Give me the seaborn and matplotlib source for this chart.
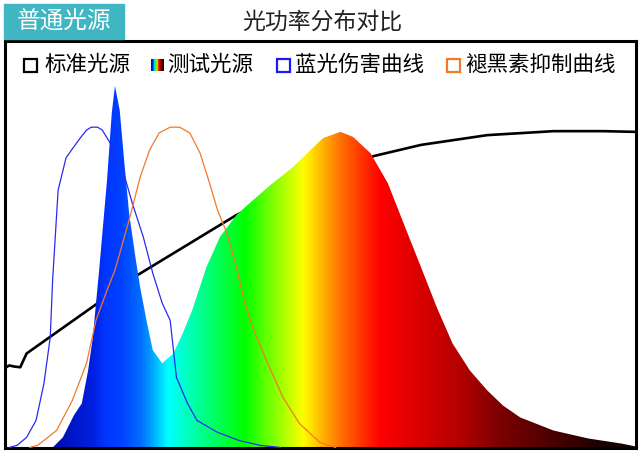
import numpy as np
import matplotlib
matplotlib.use('Agg')
import matplotlib.pyplot as plt
import seaborn as sns
from matplotlib.colors import LinearSegmentedColormap
from matplotlib.patches import Rectangle

# Wavelength (nm) and relative power
test_wl = [410.5, 417, 424, 429, 433, 436, 438, 440, 445, 448, 450, 453, 456, 459,
           463, 466, 470, 474, 480, 487, 493, 499, 508, 516.5, 527, 537.5, 550,
           563, 574, 582, 593, 601, 612, 623, 633, 644, 654, 664, 675, 686, 696,
           707, 728, 750, 771, 780]
test_val = [0.0, 0.028, 0.089, 0.122, 0.213, 0.305, 0.399, 0.490, 0.740, 0.925,
            1.0, 0.934, 0.787, 0.648, 0.526, 0.443, 0.352, 0.269, 0.233, 0.260,
            0.316, 0.380, 0.499, 0.582, 0.643, 0.684, 0.731, 0.776, 0.823, 0.856,
            0.873, 0.859, 0.814, 0.731, 0.620, 0.499, 0.388, 0.288, 0.213, 0.158,
            0.116, 0.083, 0.047, 0.025, 0.011, 0.003]

std_wl = [380, 383, 386, 390, 394, 464, 527, 555, 580, 614, 644, 686, 728, 760, 780]
std_val = [0.219, 0.227, 0.224, 0.222, 0.260, 0.476, 0.643, 0.701, 0.751,
           0.806, 0.837, 0.864, 0.875, 0.875, 0.873]

blue_wl = [383, 388, 394, 400, 405, 409, 410.5, 414, 419, 422.5, 428, 432, 435,
           439, 442, 447, 455, 461, 468, 474, 480, 485, 489, 496, 502, 515, 529,
           542, 555]
blue_val = [0.0, 0.006, 0.028, 0.075, 0.177, 0.305, 0.463, 0.712, 0.801, 0.823,
            0.856, 0.878, 0.886, 0.886, 0.878, 0.842, 0.767, 0.676, 0.582, 0.482,
            0.399, 0.352, 0.194, 0.122, 0.075, 0.042, 0.019, 0.006, 0.0]

mel_wl = [396, 401, 413, 423, 432, 438, 445, 450, 459, 466, 472, 478, 485, 491,
          497.5, 504, 510, 515, 521, 527, 532, 537.5, 546, 556.5, 567, 580, 590]
mel_val = [0.0, 0.006, 0.047, 0.130, 0.233, 0.352, 0.435, 0.490, 0.629, 0.748,
           0.823, 0.870, 0.886, 0.886, 0.870, 0.814, 0.731, 0.657, 0.593, 0.499,
           0.407, 0.330, 0.241, 0.139, 0.066, 0.014, 0.0]

# spectrum colours along the wavelength axis
grad_wl = [380, 412, 435, 443, 453, 466, 472, 483, 498, 513, 532, 550, 569, 582,
           593, 607, 618, 639, 671, 692, 724, 756, 780]
grad_col = ['#0010b0', '#0010b0', '#0020e0', '#0035ff', '#0040ff', '#0070ff',
            '#00a0ff', '#00ffff', '#00ffb0', '#00ff60', '#00ff00', '#80ff00',
            '#ffff00', '#ffb000', '#ff7000', '#ff3000', '#ff0000', '#e00000',
            '#b00000', '#800000', '#500000', '#200000', '#100000']

labels = ['标准光源', '测试光源', '蓝光伤害曲线', '褪黑素抑制曲线']
title = '光功率分布对比'
tag = '普通光源'

W, H = 640, 451
sns.set_style('white')
plt.rcParams['font.family'] = ['Noto Sans CJK SC', 'DejaVu Sans']

fig = plt.figure(figsize=(W / 100, H / 100), dpi=100)
ax = fig.add_axes([4.5 / W, 3.5 / H, 631 / W, 406 / H])

pos = [(w - 380) / 400 for w in grad_wl]
cmap = LinearSegmentedColormap.from_list('spec', list(zip(pos, grad_col)))

ymax = 1.123
ax.set_xlim(380, 780)
ax.set_ylim(0, ymax)

# standard source sits behind the spectrum fill
sns.lineplot(x=std_wl, y=std_val, ax=ax, color='black', lw=1.9, zorder=1)

poly = ax.fill_between(test_wl, test_val, 0, color='none', lw=0, zorder=2)
grad = np.linspace(0, 1, 800).reshape(1, -1)
im = ax.imshow(grad, cmap=cmap, aspect='auto', extent=[380, 780, 0, ymax],
               origin='lower', zorder=2, interpolation='bilinear')
im.set_clip_path(poly.get_paths()[0], transform=ax.transData)

sns.lineplot(x=blue_wl, y=blue_val, ax=ax, color='#2a2af0', lw=0.9, zorder=3)
sns.lineplot(x=mel_wl, y=mel_val, ax=ax, color='#f07a2a', lw=0.9, zorder=3)

ax.set_xticks([])
ax.set_yticks([])
for s in ax.spines.values():
    s.set_color('black')
    s.set_linewidth(2.2)
    s.set_visible(True)


def fx(px):
    return px / W


def fy(py):
    return 1 - py / H


# tag box and title
fig.patches.append(Rectangle((fx(4), fy(39)), 120 / W, 35 / H, transform=fig.transFigure,
                             color='#40b6c3', zorder=0))
fig.text(fx(64), fy(22), tag, color='white', fontsize=17, ha='center', va='center')
fig.text(fx(322), fy(22), title, color='#222222', fontsize=16.5, ha='center', va='center')

# legend
sq = 13
marks = [(30, 'black'), (157, None), (283, '#1a1aff'), (453, '#f07a2a')]
text_x = [45, 167, 295, 465]
for (cx, col), tx, lab in zip(marks, text_x, labels):
    if col is None:
        lax = fig.add_axes([fx(cx - sq / 2), fy(65 + sq / 2), sq / W, sq / H])
        lax.imshow(grad, cmap=cmap, aspect='auto', interpolation='bilinear')
        lax.axis('off')
    else:
        fig.patches.append(Rectangle((fx(cx - sq / 2), fy(65 + sq / 2)), sq / W, sq / H,
                                     transform=fig.transFigure, fill=False,
                                     edgecolor=col, lw=1.6, zorder=5))
    fig.text(fx(tx), fy(65), lab, color='black', fontsize=15.5, ha='left', va='center')

fig.savefig('out.png', dpi=100)
